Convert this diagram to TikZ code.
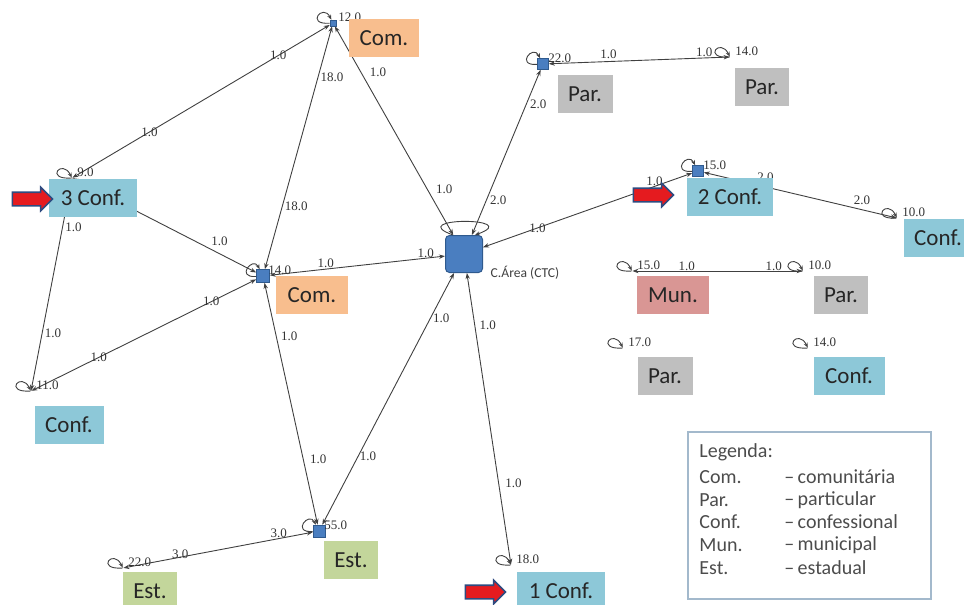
\documentclass[tikz,border=0pt]{standalone}
\usepackage{fontspec}
\setmainfont{Carlito}
\newfontfamily\numfont{Liberation Serif}
\usetikzlibrary{arrows.meta, shapes.arrows}

\definecolor{comcol}{HTML}{F8BE8E}
\definecolor{confcol}{HTML}{8DC8D8}
\definecolor{parcol}{HTML}{BFBFBF}
\definecolor{muncol}{HTML}{D99694}
\definecolor{estcol}{HTML}{C3D69B}
\definecolor{vtxcol}{HTML}{4A7EC0}
\definecolor{vtxline}{HTML}{2F5A8E}
\definecolor{arrred}{HTML}{E51B1F}
\definecolor{arrblue}{HTML}{2E4B80}
\definecolor{legline}{HTML}{A3B9CC}

% loop of a vertex onto itself, with its value
\newcommand{\selfloop}[2]{%
  \draw[edge, -{Stealth[length=2.5pt,width=2pt]}] (#1) .. controls +(-28,2) and +(-10,-20) .. (#1);
  \node (#1-lp) at ([shift={(4,-6)}]#1) [lbl, anchor=west] {#2};}

\begin{document}
\begin{tikzpicture}[x=0.5pt, y=-0.5pt,
    edge/.style={draw=black!75, line width=0.45pt},
    link/.style={edge, {Stealth[length=3pt,width=2.2pt]}-{Stealth[length=3pt,width=2.2pt]}},
    lbl/.style={font=\numfont\fontsize{6.5}{7.5}\selectfont, text=black!80, inner sep=0.5pt},
    vtx/.style={draw=vtxline, fill=vtxcol, inner sep=0pt, line width=0.3pt},
    bare/.style={inner sep=0pt, minimum size=0pt},
    box/.style={inner sep=0pt, minimum height=19pt, text=black!85, font=\fontsize{11.5}{13}\selectfont},
    bigarrow/.style={single arrow, draw=arrblue, fill=arrred, line width=0.8pt, inner xsep=0pt, inner ysep=3pt, minimum height=20pt, single arrow head extend=2.5pt},
    legtext/.style={anchor=west, inner sep=0pt, text=black!70, font=\fontsize{10}{12}\selectfont}]
    \useasboundingbox (0,0) rectangle (964,605);

    % Vertices
    \node (n1) at (333,23) [vtx, minimum size=3pt] {};
    \node (n2) at (72,178) [bare] {};
    \node (n3) at (263,276) [vtx, minimum size=6.5pt] {};
    \node (n4) at (31,391) [bare] {};
    \node (n5) at (319,531) [vtx, minimum size=6pt] {};
    \node (n6) at (123,568) [bare] {};
    \node (n7) at (511,565) [bare] {};
    \node (n8) at (543,64) [vtx, minimum size=5.5pt] {};
    \node (n9) at (730,57) [bare] {};
    \node (n10) at (698,171) [vtx, minimum size=5.5pt] {};
    \node (n11) at (897,218) [bare] {};
    \node (n12) at (632,271) [bare] {};
    \node (n13) at (803,271) [bare] {};
    \node (n14) at (623,348) [bare] {};
    \node (n15) at (808,348) [bare] {};
    \node (ctc) at (464,254) [vtx, minimum size=18.5pt, rounded corners=2pt, line width=0.5pt] {};
    \node (ctcname) at (525,273) [text=black!75, font=\fontsize{6.8}{8}\selectfont, inner sep=0pt] {C.Área (CTC)};

    % Ties with their values
    \draw[link] (n2) -- (n1) node[pos=0.3, lbl] {1.0} node[pos=0.8, lbl] {1.0};
    \draw[link] (n3) -- (n1) node[pos=0.26, lbl, xshift=7pt] {18.0} node[pos=0.79, lbl, xshift=7pt] {18.0};
    \draw[link] (n1) -- (ctc) node[pos=0.22, lbl, xshift=8.5pt] {1.0} node[pos=0.78, lbl, xshift=8.5pt] {1.0};
    \draw[link] (n2) -- (n3) node[pos=0.8, lbl, yshift=6pt] {1.0};
    \draw[link] (n3) -- (ctc) node[pos=0.32, lbl, yshift=3pt] {1.0} node[pos=0.89, lbl, yshift=2.5pt] {1.0};
    \draw[link] (n2) -- (n4) node[pos=0.23, lbl, xshift=5.5pt] {1.0} node[pos=0.73, lbl, xshift=5.5pt] {1.0};
    \draw[link] (n4) -- (n3) node[pos=0.3, lbl] {1.0} node[pos=0.8, lbl] {1.0};
    \draw[link] (n3) -- (n5) node[pos=0.22, lbl, xshift=6.5pt] {1.0} node[pos=0.73, lbl, xshift=7.5pt] {1.0};
    \draw[link] (n5) -- (ctc) node[pos=0.27, lbl, xshift=5pt] {1.0} node[pos=0.82, lbl, xshift=5.5pt] {1.0};
    \draw[link] (ctc) -- (n7) node[pos=0.18, lbl, xshift=6.5pt] {1.0} node[pos=0.72, lbl, xshift=7.5pt] {1.0};
    \draw[link] (n6) -- (n5) node[pos=0.3, lbl, yshift=1.5pt] {3.0} node[pos=0.82, lbl, yshift=2.5pt] {3.0};
    \draw[link] (ctc) -- (n8) node[pos=0.21, lbl, xshift=6pt] {2.0} node[pos=0.79, lbl, xshift=6pt] {2.0};
    \draw[link] (n8) -- (n9) node[pos=0.33, lbl, yshift=3.5pt] {1.0} node[pos=0.86, lbl, yshift=3pt] {1.0};
    \draw[link] (ctc) -- (n10) node[pos=0.26, lbl] {1.0} node[pos=0.82, lbl, yshift=2.5pt] {1.0};
    \draw[link] (n10) -- (n11) node[pos=0.32, lbl, yshift=5pt] {2.0} node[pos=0.82, lbl, yshift=4.5pt] {2.0};
    \draw[link] (n12) -- (n13) node[pos=0.32, lbl, yshift=2.5pt] {1.0} node[pos=0.83, lbl, yshift=2.5pt] {1.0};

    % Loops
    \selfloop{n1}{12.0}
    \selfloop{n2}{9.0}
    \selfloop{n3}{14.0}
    \selfloop{n4}{11.0}
    \selfloop{n5}{55.0}
    \selfloop{n6}{22.0}
    \selfloop{n7}{18.0}
    \selfloop{n8}{22.0}
    \selfloop{n9}{14.0}
    \selfloop{n10}{15.0}
    \selfloop{n11}{10.0}
    \selfloop{n12}{15.0}
    \selfloop{n13}{10.0}
    \selfloop{n14}{17.0}
    \selfloop{n15}{14.0}
    \draw[edge, -{Stealth[length=2.5pt,width=2pt]}] (ctc.120) .. controls +(-50,-18) and +(50,-18) .. (ctc.60);

    % Kind of each school
    \node (bComTop) at (384,38) [box, fill=comcol, minimum width=35pt] {Com.};
    \node (bConf3) at (93,198) [box, fill=confcol, minimum width=44pt] {3 Conf.};
    \node (bComMid) at (312,295) [box, fill=comcol, minimum width=36pt] {Com.};
    \node (bConfL) at (69,425) [box, fill=confcol, minimum width=34.5pt] {Conf.};
    \node (bEstMid) at (351,560) [box, fill=estcol, minimum width=27pt] {Est.};
    \node (bEstL) at (150,591) [box, fill=estcol, minimum width=27pt] {Est.};
    \node (bConf1) at (561,591) [box, fill=confcol, minimum width=44pt] {1 Conf.};
    \node (bParTop) at (585,94) [box, fill=parcol, minimum width=27.5pt] {Par.};
    \node (bParTopR) at (762,87) [box, fill=parcol, minimum width=27pt] {Par.};
    \node (bConf2) at (730,197) [box, fill=confcol, minimum width=43pt] {2 Conf.};
    \node (bConfR) at (938,238) [box, fill=confcol, minimum width=34pt] {Conf.};
    \node (bMun) at (673,295) [box, fill=muncol, minimum width=36pt] {Mun.};
    \node (bParR) at (841,295) [box, fill=parcol, minimum width=27pt] {Par.};
    \node (bParLow) at (665,376) [box, fill=parcol, minimum width=27.5pt] {Par.};
    \node (bConfLowR) at (849,376) [box, fill=confcol, minimum width=35.5pt] {Conf.};

    % Red arrows
    \node (arr3) at (29,199) [bigarrow] {};
    \node (arr2) at (650,195) [bigarrow] {};
    \node (arr1) at (482,592) [bigarrow] {};

    % Legend
    \node (leg) at (809.5,515.5) [draw=legline, line width=0.6pt, minimum width=121.5pt, minimum height=83.5pt, inner sep=0pt] {};
    \node (legT) at (699,452) [legtext] {Legenda:};
    \node (legA) at (699,477) [legtext] {Com.};
    \node (legB) at (699,500) [legtext] {Par.};
    \node (legC) at (699,522) [legtext] {Conf.};
    \node (legD) at (699,545) [legtext] {Mun.};
    \node (legE) at (699,568) [legtext] {Est.};
    \node (legA2) at (784,477) [legtext] {–\,comunitária};
    \node (legB2) at (784,500) [legtext] {–\,particular};
    \node (legC2) at (784,522) [legtext] {–\,confessional};
    \node (legD2) at (784,545) [legtext] {–\,municipal};
    \node (legE2) at (784,568) [legtext] {–\,estadual};
\end{tikzpicture}
\end{document}
